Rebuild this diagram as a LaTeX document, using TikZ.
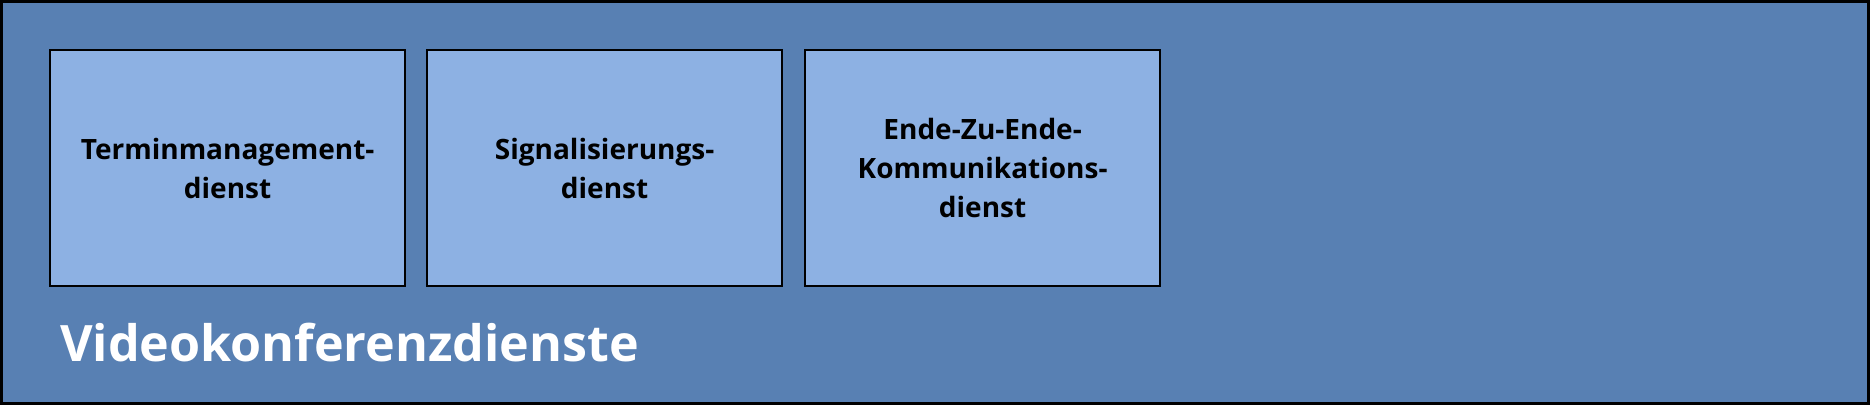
\documentclass[tikz,border=0pt]{standalone}
\usepackage{fontspec}
\setmainfont{Open Sans}
\definecolor{outerblue}{HTML}{5880B3}
\definecolor{innerblue}{HTML}{8DB1E3}
\tikzset{
  svcbox/.style={draw=black, line width=2.2pt, fill=innerblue, minimum width=355pt, minimum height=236pt,
    inner sep=0pt, align=center, text=black, font=\fontsize{28}{39}\selectfont\bfseries, anchor=north west},
  frame/.style={draw=black, line width=2.5pt, fill=outerblue}
}
\begin{document}
\begin{tikzpicture}[x=1pt,y=-1pt]
\useasboundingbox (0,0) rectangle (1870,405);
\draw[frame] (1.5,1.5) rectangle (1868.5,403.5);
\node[svcbox] (termin) at (49,49) {Terminmanagement-\\dienst};
\node[svcbox] (signal) at (426,49) {Signalisierungs-\\dienst};
\node[svcbox] (ende) at (804,49) {Ende-Zu-Ende-\\Kommunikations-\\dienst};
\node[anchor=base west, inner sep=0pt, text=white, font=\fontsize{50.2}{70}\selectfont\bfseries] (title) at (60,361) {Videokonferenzdienste};
\end{tikzpicture}
\end{document}
